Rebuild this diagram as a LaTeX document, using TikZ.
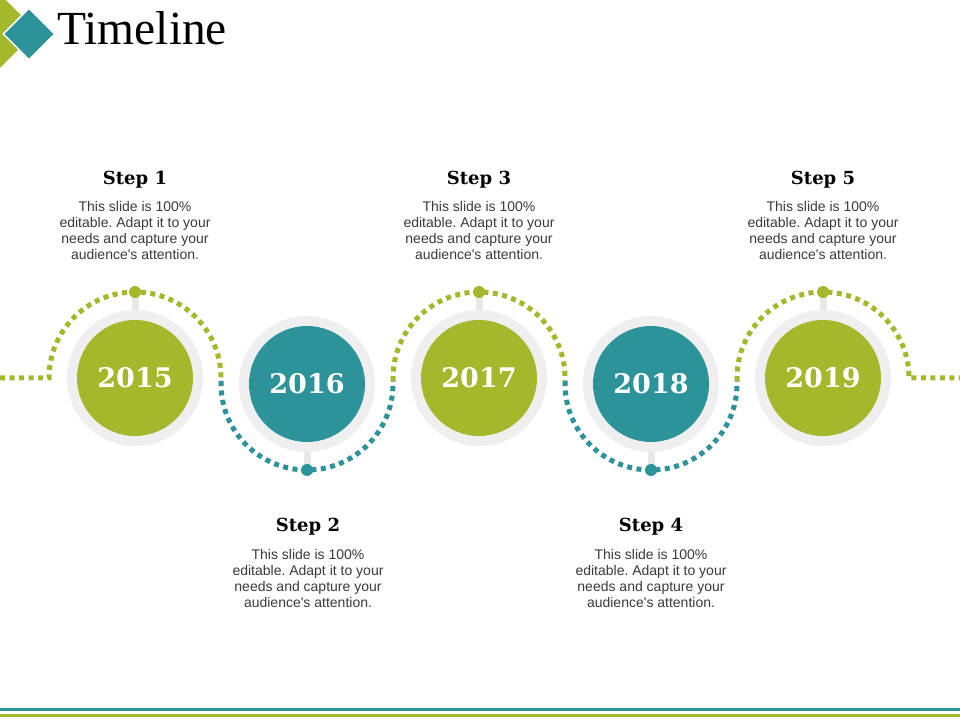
\documentclass[tikz,border=0pt]{standalone}
\usepackage{fontspec}
\setmainfont{Liberation Serif}
\newfontfamily\bodyfont{Liberation Sans}
\newfontfamily\yearfont{DejaVu Serif}
\usetikzlibrary{shapes.geometric}
\frenchspacing

\definecolor{tlgreen}{RGB}{164,184,44}
\definecolor{tlteal}{RGB}{43,147,153}
\definecolor{tlring}{RGB}{239,239,239}
\definecolor{tlstub}{RGB}{232,232,232}
\definecolor{tltext}{RGB}{58,58,58}

\tikzset{
	ring/.style={shape=circle, fill=tlring, minimum size=136pt, inner sep=0pt},
	yeardisk/.style={shape=circle, minimum size=116pt, inner sep=0pt, text=white, font=\yearfont\bfseries\fontsize{27}{30}\selectfont},
	stepdot/.style={shape=circle, minimum size=12pt, inner sep=0pt},
	stub/.style={draw=tlstub, line width=7pt},
	dots/.style={line width=5pt, dash pattern={on 5pt off 4.5pt}},
	steptitle/.style={font=\yearfont\bfseries\fontsize{18}{20}\selectfont, text=black},
	stepbody/.style={align=center, font=\bodyfont\fontsize{14}{16}\selectfont, text=tltext}
}

\begin{document}
\begin{tikzpicture}[x=1pt, y=1pt]

	\useasboundingbox (0,0) rectangle (960,720);

	% Title and corner marks:
	\node[shape=diamond, fill=tlgreen, minimum width=100pt, minimum height=100pt, inner sep=0pt](G1) at (-13, 689){};
	\node[shape=diamond, fill=tlteal, draw=white, line width=1.5pt, minimum width=52pt, minimum height=52pt, inner sep=0pt](T1) at (29, 686){};
	\node[anchor=base west, inner sep=0pt, font=\fontsize{47.5}{50}\selectfont](title) at (57, 675){Timeline};

	% Stubs between dots and rings:
	\draw[stub] (135, 428) -- (135, 410);
	\draw[stub] (307, 250) -- (307, 268);
	\draw[stub] (479, 428) -- (479, 410);
	\draw[stub] (651, 250) -- (651, 268);
	\draw[stub] (823, 428) -- (823, 410);

	% Rings and year disks:
	\node[ring](R1) at (135, 342){};
	\node[ring](R2) at (307, 336){};
	\node[ring](R3) at (479, 342){};
	\node[ring](R4) at (651, 336){};
	\node[ring](R5) at (823, 342){};
	\node[yeardisk, fill=tlgreen](Y1) at (R1.center){2015};
	\node[yeardisk, fill=tlteal](Y2) at (R2.center){2016};
	\node[yeardisk, fill=tlgreen](Y3) at (R3.center){2017};
	\node[yeardisk, fill=tlteal](Y4) at (R4.center){2018};
	\node[yeardisk, fill=tlgreen](Y5) at (R5.center){2019};

	% Dotted path:
	\coordinate (L0) at (0, 342);
	\coordinate (L6) at (960, 342);
	\draw[dots, draw=tlgreen] (L0) -- ([xshift=-86pt]R1.center) arc[start angle=180, end angle=0, radius=86pt] -- ++(0,-3);
	\draw[dots, draw=tlteal] ([xshift=-86pt, yshift=3pt]R2.center) -- ([xshift=-86pt]R2.center) arc[start angle=180, end angle=360, radius=86pt] -- ++(0,3);
	\draw[dots, draw=tlgreen] ([xshift=-86pt, yshift=-3pt]R3.center) -- ([xshift=-86pt]R3.center) arc[start angle=180, end angle=0, radius=86pt] -- ++(0,-3);
	\draw[dots, draw=tlteal] ([xshift=-86pt, yshift=3pt]R4.center) -- ([xshift=-86pt]R4.center) arc[start angle=180, end angle=360, radius=86pt] -- ++(0,3);
	\draw[dots, draw=tlgreen] ([xshift=-86pt, yshift=-3pt]R5.center) -- ([xshift=-86pt]R5.center) arc[start angle=180, end angle=0, radius=86pt] -- (L6);

	% Dots on the path:
	\node[stepdot, fill=tlgreen](D1) at ([yshift=86pt]R1.center){};
	\node[stepdot, fill=tlteal](D2) at ([yshift=-86pt]R2.center){};
	\node[stepdot, fill=tlgreen](D3) at ([yshift=86pt]R3.center){};
	\node[stepdot, fill=tlteal](D4) at ([yshift=-86pt]R4.center){};
	\node[stepdot, fill=tlgreen](D5) at ([yshift=86pt]R5.center){};

	% Step texts:
	\node[steptitle](S1) at (135, 540){Step 1};
	\node[stepbody](B1) at (135, 489){This slide is 100\%\\editable. Adapt it to your\\needs and capture your\\audience's attention.};
	\node[steptitle](S2) at (308, 193){Step 2};
	\node[stepbody](B2) at (308, 142){This slide is 100\%\\editable. Adapt it to your\\needs and capture your\\audience's attention.};
	\node[steptitle](S3) at (479, 540){Step 3};
	\node[stepbody](B3) at (479, 489){This slide is 100\%\\editable. Adapt it to your\\needs and capture your\\audience's attention.};
	\node[steptitle](S4) at (651, 193){Step 4};
	\node[stepbody](B4) at (651, 142){This slide is 100\%\\editable. Adapt it to your\\needs and capture your\\audience's attention.};
	\node[steptitle](S5) at (823, 540){Step 5};
	\node[stepbody](B5) at (823, 489){This slide is 100\%\\editable. Adapt it to your\\needs and capture your\\audience's attention.};

	% Footer lines:
	\draw[draw=tlteal, line width=3pt] (0, 10.5) -- (960, 10.5);
	\draw[draw=tlgreen, line width=3pt] (0, 5) -- (960, 5);

\end{tikzpicture}
\end{document}
